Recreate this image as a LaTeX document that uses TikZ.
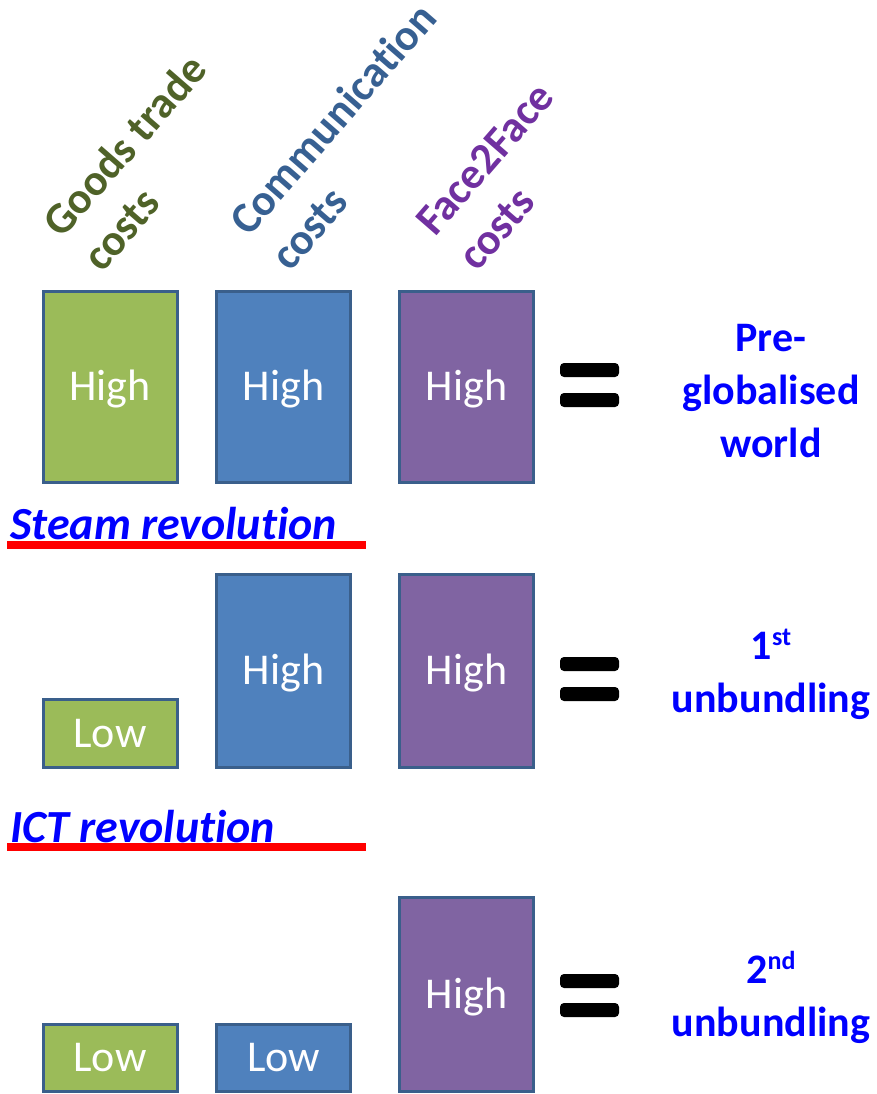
\documentclass[tikz,border=0pt]{standalone}
\usepackage{fontspec}
\setmainfont{Carlito}[Ligatures=NoCommon]
\definecolor{hgreen}{HTML}{4F6228}
\definecolor{hblue}{HTML}{376092}
\definecolor{hpurple}{HTML}{7030A0}
\definecolor{bgreen}{HTML}{9BBB59}
\definecolor{bblue}{HTML}{4F81BD}
\definecolor{bpurple}{HTML}{8064A2}
\definecolor{bborder}{HTML}{3A5F8B}
\definecolor{tblue}{HTML}{0000FF}
\definecolor{rline}{HTML}{FF0000}
\tikzset{
  hdr/.style={anchor=base west, rotate=49, inner sep=0pt, font=\fontsize{44}{44}\selectfont\bfseries},
  costbox/.style={draw=bborder, line width=3pt, minimum width=134pt, inner sep=0pt, text=white, text height=28pt, text depth=0pt, font=\fontsize{44}{44}\selectfont},
  gbox/.style={costbox, fill=bgreen},
  bbox/.style={costbox, fill=bblue},
  pbox/.style={costbox, fill=bpurple},
  eqbar/.style={fill=black, rounded corners=4pt},
  result/.style={text=tblue, align=center, anchor=base, inner sep=0pt, font=\fontsize{42}{53}\selectfont\bfseries},
  revlabel/.style={text=tblue, anchor=base west, inner sep=0pt, font=\fontsize{46}{46}\selectfont\bfseries\itshape},
  redline/.style={draw=rline, line width=8pt}
}
\begin{document}
\begin{tikzpicture}[x=1pt,y=-1pt]
\useasboundingbox (0,0) rectangle (876,1094);
% headers
\node[hdr, text=hgreen] (h1a) at (62,240) {Goods trade};
\node[hdr, text=hgreen] (h1b) at (102,274) {costs};
\node[hdr, text=hblue] (h2a) at (249,238) {Communication};
\node[hdr, text=hblue] (h2b) at (290,273) {costs};
\node[hdr, text=hpurple] (h3a) at (435,238) {Face2Face};
\node[hdr, text=hpurple] (h3b) at (477,273) {costs};
% row 1
\node[gbox, minimum height=191pt] (g1) at (110,386.5) {High};
\node[bbox, minimum height=191pt] (b1) at (283.5,386.5) {High};
\node[pbox, minimum height=191pt] (p1) at (466.5,386.5) {High};
\path[eqbar] (560,363) rectangle (619,377);
\path[eqbar] (560,393) rectangle (619,407);
\node[result] (r1) at (771,457) {Pre-\\globalised\\world};
% steam revolution
\node[revlabel] (steam) at (10,539) {Steam revolution};
\coordinate (s1) at (7,545);
\coordinate (s2) at (366,545);
\draw[redline] (s1) -- (s2);
% row 2
\node[gbox, minimum height=68pt] (g2) at (110,733) {Low};
\node[bbox, minimum height=193pt] (b2) at (283.5,670.5) {High};
\node[pbox, minimum height=193pt] (p2) at (466.5,670.5) {High};
\path[eqbar] (560,657) rectangle (619,671);
\path[eqbar] (560,687) rectangle (619,701);
\node[result] (r2) at (771,712) {1\raisebox{14pt}{\fontsize{26}{26}\selectfont st}\\unbundling};
% ICT revolution
\node[revlabel] (ict) at (10,842) {ICT revolution};
\coordinate (i1) at (7,847);
\coordinate (i2) at (366,847);
\draw[redline] (i1) -- (i2);
% row 3
\node[gbox, minimum height=67pt] (g3) at (110,1057.5) {Low};
\node[bbox, minimum height=67pt] (b3) at (283.5,1057.5) {Low};
\node[pbox, minimum height=194pt] (p3) at (466.5,994) {High};
\path[eqbar] (560,974) rectangle (619,988);
\path[eqbar] (560,1003) rectangle (619,1017);
\node[result] (r3) at (771,1036) {2\raisebox{14pt}{\fontsize{26}{26}\selectfont nd}\\unbundling};
\end{tikzpicture}
\end{document}
